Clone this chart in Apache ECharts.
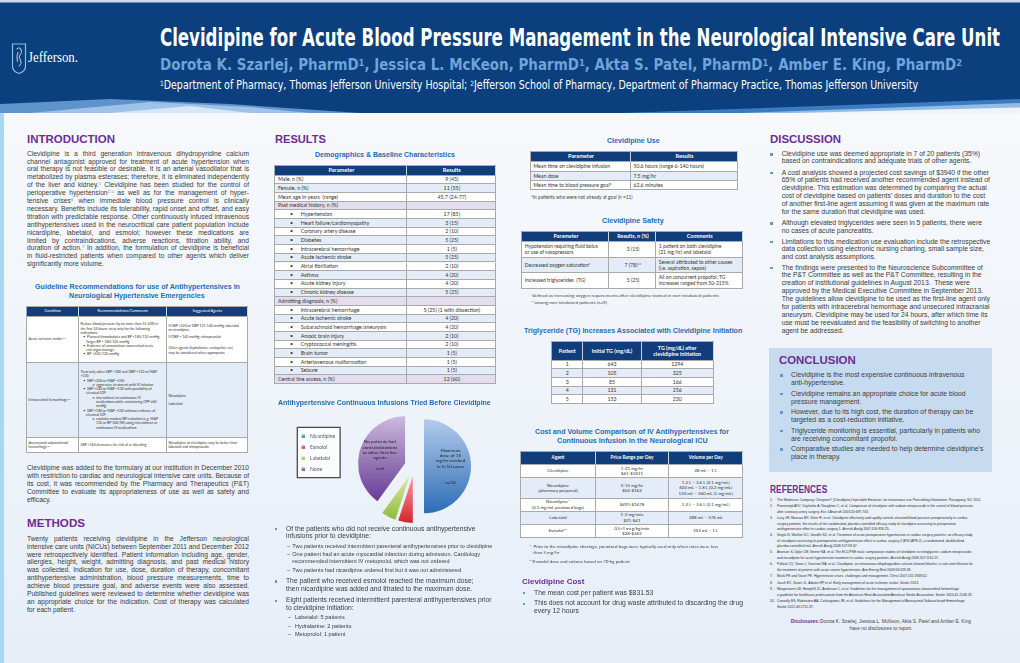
<!DOCTYPE html>
<html><head><meta charset="utf-8">
<script src="https://cdn.jsdelivr.net/npm/echarts@6.0.0/dist/echarts.min.js"></script>
<style>
html,body{margin:0;padding:0}
body{width:1020px;height:663px;position:relative;overflow:hidden;font-family:"Liberation Sans",Arial,Helvetica,sans-serif;color:#3c3c3c;background:linear-gradient(180deg,#f9fbfd 0px,#f4f7fb 220px,#e7eef8 663px)}
.t{position:absolute;white-space:nowrap;line-height:1;transform-origin:0 50%}
.t sup{font-size:0.62em;vertical-align:0.45em;line-height:0;color:#3f8fd8}
.hd sup{color:inherit}
.tb{position:absolute;box-sizing:content-box;border-left:1px solid #a9a9a9;border-top:1px solid #a9a9a9}
.cell{position:absolute;box-sizing:border-box;border-right:1px solid #a9a9a9;border-bottom:1px solid #a9a9a9;display:flex;flex-direction:column;justify-content:center;overflow:hidden;line-height:1.22;font-family:Lato,"Liberation Sans",sans-serif;color:#333;white-space:nowrap}
.cell sup{font-size:0.65em;vertical-align:0.4em;line-height:0}
.bul{position:absolute;width:2.2px;height:2.2px;background:#5b9bd5}
#pie{position:absolute;left:270px;top:395px;width:235px;height:135px}
</style></head><body>
<svg width="1020" height="113" style="position:absolute;left:0;top:0">
  <rect x="0" y="0" width="1020" height="113" fill="#0b3f7d"/>
  <rect x="0" y="0" width="1020" height="2.5" fill="#c9d8ea"/>
  <polygon points="0,113 0,104 110,99 230,104 360,113" fill="#5f93cc"/>
  <polygon points="30,113 150,102 250,107 310,113" fill="#9fc3e8"/>
  <polygon points="110,113 190,106 250,113" fill="#d8e7f5"/>
  <polygon points="620,113 1020,99 1020,113" fill="#3b7bc0"/>
  <polygon points="740,113 1020,103 1020,113" fill="#92bce6"/>
  <polygon points="795,113 1020,107.5 1020,113" fill="#eef4fa"/>
  <path d="M12.5,44 L25.5,44 L25.5,66 Q25.5,71.5 19,73.5 Q12.5,71.5 12.5,66 Z" fill="none" stroke="#8cbbe8" stroke-width="1.2"/>
  <path d="M16.5,49 Q19,46.5 21,49 Q22.5,53 20,55 Q18,57.5 20.5,60 Q22.5,63 19,66.5 M18,52 Q16,56 17.5,62" fill="none" stroke="#c9def3" stroke-width="0.9"/>
</svg>
<div id="pie"></div>
<script>
// ---------------- DATA ----------------
const pieTitle = 'Antihypertensive Continuous Infusions Tried Before Clevidipine';
const pieCategories = ['Nicardipine', 'Esmolol', 'Labetalol', 'None'];
const pieValues = [10, 1, 1, 8];
const pieNotes = ['Maximum\ndose of 15\nmg/hr reached\nin 5/10 cases\n\n\nn=10', 'n=1', 'n=1', 'No patients had\ncontraindications\nto other first-line\nagents\n\nn=8'];

const demoHeader = ['Parameter', 'Results'];
const demoParams = ['Male, n (%)', 'Female, n (%)', 'Mean age in years&nbsp; (range)', 'Past medical history, n (%)', 'Hypertension', 'Heart failure/cardiomyopathy', 'Coronary artery disease', 'Diabetes', 'Intracerebral hemorrhage', 'Acute ischemic stroke', 'Atrial fibrillation', 'Asthma', 'Acute kidney injury', 'Chronic kidney disease', 'Admitting diagnosis, n (%)', 'Intracerebral hemorrhage', 'Acute ischemic stroke', 'Subarachnoid hemorrhage/aneurysm', 'Anoxic brain injury', 'Cryptococcal meningitis', 'Brain tumor', 'Arteriovenous malformation', 'Seizure', 'Central line access, n (%)'];
const demoResults = ['9 (45)', '11 (55)', '45.7 (24-77)', '', '17 (85)', '3 (15)', '2 (10)', '5 (25)', '1 (5)', '5 (25)', '2 (10)', '4 (20)', '4 (20)', '5 (25)', '', '5 (25) (1 with dissection)', '4 (20)', '4 (20)', '2 (10)', '2 (10)', '1 (5)', '1 (5)', '1 (5)', '12 (60)'];
const demoKinds = [0, 0, 0, 1, 2, 2, 2, 2, 2, 2, 2, 2, 2, 2, 1, 2, 2, 2, 2, 2, 2, 2, 2, 1];

const useHeader = ['Parameter', 'Results'];
const useParams = ['Mean time on clevidipine infusion', 'Mean dose', 'Mean time to blood pressure goal*'];
const useResults = ['50.6 hours (range 6-140 hours)', '7.5 mg/hr', '62.6 minutes'];

const safetyHeader = ['Parameter', 'Results, n (%)', 'Comments'];
const safetyParams = ['Hypotension requiring fluid bolus<br>or use of vasopressors', 'Decreased oxygen saturation*', 'Increased triglycerides&nbsp; (TG)'];
const safetyResults = ['3 (15)', '7 (78)**', '5 (25)'];
const safetyComments = ['1 patient on both clevidipine<br>(21 mg/hr) and labetalol', 'Several attributed to other causes<br>(i.e. aspiration, sepsis)', 'All on concurrent propofol; TG<br>increases ranged from 50-215%'];

const tgHeader = ['Patient', 'Initial TG (mg/dL)', 'TG (mg/dL) after<br>clevidipine initiation'];
const tgPatients = ['1', '2', '3', '4', '5'];
const tgInitial = ['643', '105', '85', '131', '153'];
const tgAfter = ['1294', '325', '166', '256', '230'];

const costHeader = ['Agent', 'Price Range per Day', 'Volume per Day'];
const costAgents = ['Clevidipine', 'Nicardipine<br>(pharmacy prepared)', 'Nicardipine*<br>(0.1 mg/mL premixed bags)', 'Labetalol', 'Esmolol**'];
const costPrices = ['1-21 mg/hr<br>$61-$1811', '5-15 mg/hr<br>$54-$162', '$493-$1478', '1-2 mg/min<br>$21-$41', '0.5-3 mcg/kg/min<br>$28-$265'];
const costVolumes = ['48 mL &ndash; 1 L', '1.2 L &ndash; 3.6 L (0.1 mg/mL)<br>600 mL &ndash; 1.8 L (0.2 mg/mL)<br>120 mL &ndash; 360 mL (1 mg/mL)', '1.2 L &ndash; 3.6 L (0.1 mg/mL)', '288 mL &ndash; 576 mL', '252 mL &ndash; 1 L'];

// ---------------- HELPERS ----------------
function T(x, y, html, o = {}) {
  const fs = o.fs || 6.8;
  const d = document.createElement('div');
  d.className = 't' + (o.cls ? ' ' + o.cls : '');
  d.innerHTML = html;
  const f = o.cap ? 0.49 : (o.ff && o.ff.indexOf('Lato') >= 0 ? 0.6 : 0.55);
  let st = `font-size:${fs}px;top:${(y - fs * f).toFixed(2)}px;`;
  if (o.c) st += `color:${o.c};`;
  if (o.b) st += 'font-weight:bold;';
  if (o.ff) st += `font-family:${o.ff};`;
  d.style.cssText = st;
  document.body.appendChild(d);
  let w = d.getBoundingClientRect().width;
  if (o.j) {
    const n = (d.textContent.match(/ /g) || []).length;
    if (w < o.j && n) { d.style.wordSpacing = ((o.j - w) / n) + 'px'; w = o.j; }
    else if (w > o.j) { d.style.transform = `scaleX(${o.j / w})`; w = o.j; }
  }
  if (o.w) { d.style.transform = `scaleX(${o.w / w})`; w = o.w; }
  let left = x;
  if (o.cx != null) left = o.cx - w / 2;
  d.style.left = left + 'px';
  return d;
}
function P(x, y0, lh, width, lines, o = {}) {
  lines.forEach((s, i) => T(x, y0 + i * lh, s, Object.assign({}, o, { j: i < lines.length - 1 ? width : null })));
}
function Bul(x, y) {
  const d = document.createElement('div'); d.className = 'bul';
  d.style.left = (x - 0.3) + 'px'; d.style.top = (y - 1.3) + 'px';
  document.body.appendChild(d);
}
function Lines(x, ys, lines, o = {}) { lines.forEach((s, i) => T(x, ys[i], s, o)); }
function G(x, y, widths, rows, o = {}) {
  const wrap = document.createElement('div'); wrap.className = 'tb';
  const W = widths.reduce((a, b) => a + b, 0), H = rows.reduce((a, r) => a + r.h, 0);
  wrap.style.cssText = `left:${x - 1}px;top:${y - 1}px;width:${W}px;height:${H}px;`;
  let yy = 0;
  rows.forEach(r => {
    let xx = 0;
    r.c.forEach((txt, i) => {
      const d = document.createElement('div'); d.className = 'cell';
      const al = (r.al || o.al || [])[i] || 'l';
      d.style.cssText = `left:${xx}px;top:${yy}px;width:${widths[i]}px;height:${r.h}px;background:${r.bg || '#fff'};font-size:${r.fs || o.fs}px;align-items:${al === 'c' ? 'center' : 'flex-start'};text-align:${al === 'c' ? 'center' : 'left'};padding-left:${o.pad != null ? o.pad : 2}px;padding-right:1px;${r.st || ''}`;
      d.innerHTML = '<div>' + txt + '</div>';
      wrap.appendChild(d);
      xx += widths[i];
    });
    yy += r.h;
  });
  document.body.appendChild(wrap);
}
const HB = '#113e7a', LB = '#e3ecf7', LV = '#e4ddee';
const PURPLE = '#6b2e92', BLUE = '#1f6cb6';
const HEADST = 'color:#fff;font-weight:bold;border-right-color:#c8d3e3;';
const COND = '"DejaVu Sans Condensed","Liberation Sans Narrow","Liberation Sans",sans-serif';

// ---------------- HEADER ----------------
T(28, 58.5, 'Jefferson.', { fs: 15, c: '#fff', ff: '"Liberation Serif","Times New Roman",serif', w: 50 });
T(160, 37, 'Clevidipine for Acute Blood Pressure Management in the Neurological Intensive Care Unit', { fs: 25, b: 1, c: '#fff', ff: COND, w: 840, cap: 1 });
T(160, 66, 'Dorota K. Szarlej, PharmD<sup>1</sup>, Jessica L. McKeon, PharmD<sup>1</sup>, Akta S. Patel, PharmD<sup>1</sup>, Amber E. King, PharmD<sup>2</sup>', { fs: 15, b: 1, c: '#6ea4d8', cls: 'hd', ff: COND, w: 802 });
T(160, 86.5, '<sup>1</sup>Department of Pharmacy, Thomas Jefferson University Hospital; <sup>2</sup>Jefferson School of Pharmacy, Department of Pharmacy Practice, Thomas Jefferson University', { fs: 11.5, c: '#fff', cls: 'hd', ff: COND, w: 758 });

// left strip
(function () { const d = document.createElement('div'); d.style.cssText = 'position:absolute;left:0;top:113px;width:4px;height:550px;background:#aad6f2'; document.body.appendChild(d); })();

// ---------------- COLUMN 1 ----------------
T(27, 140, 'INTRODUCTION', { fs: 11.5, b: 1, c: PURPLE, w: 88, cap: 1 });
P(27, 154.3, 7.9, 222, [
  'Clevidipine is a third generation intravenous dihydropyridine calcium',
  'channel antagonist approved for treatment of acute hypertension when',
  'oral therapy is not feasible or desirable. It is an arterial vasodilator that is',
  'metabolized by plasma esterases; therefore, it is eliminated independently',
  'of the liver and kidney.<sup>1</sup> Clevidipine has been studied for the control of',
  'perioperative hypertension<sup>2-5</sup> as well as for the management of hyper-',
  'tensive crises<sup>6</sup> when immediate blood pressure control is clinically',
  'necessary. Benefits include its tolerability, rapid onset and offset, and easy',
  'titration with predictable response. Other continuously infused intravenous',
  'antihypertensives used in the neurocritical care patient population include',
  'nicardipine, labetalol, and esmolol; however these medications are',
  'limited by contraindications, adverse reactions, titration ability, and',
  'duration of action.<sup>7</sup> In addition, the formulation of clevidipine is beneficial',
  'in fluid-restricted patients when compared to other agents which deliver',
  'significantly more volume.'
], { fs: 6.7 });
T(0, 286.7, 'Guideline Recommendations for use of Antihypertensives in', { fs: 7, b: 1, c: BLUE, cx: 137.5, w: 205 });
T(0, 295.7, 'Neurological Hypertensive Emergencies', { fs: 7, b: 1, c: BLUE, cx: 137.2, w: 135.7 });

const li = (s, pl, ti) => `<div style="padding-left:${pl}px;text-indent:${ti}px">${s}</div>`;
G(27, 307, [52, 88, 81], [
  { h: 10, bg: HB, st: HEADST + 'font-weight:normal;', al: ['c', 'c', 'c'], fs: 3.8, c: ['Condition', 'Recommendations/Comments', 'Suggested Agents'] },
  { h: 46, bg: '#fff', c: [
    'Acute ischemic stroke<sup>8,9</sup>',
    li('Reduce blood pressure by no more than 15-20% in<br>the first 24 hours; treat only for the following<br>indications:', 0, 0) +
    li('&bull;&nbsp; Planned thrombolysis and BP &gt;185/110 mmHg.<br>Target BP &lt; 180/105 mmHg', 5.5, -2.8) +
    li('&bull;&nbsp; Evidence of concomitant noncerebral acute<br>end organ damage', 5.5, -2.8) +
    li('&bull;&nbsp; BP &gt;220/120 mmHg', 5.5, -2.8),
    li('If SBP &gt;220 or DBP 121-140 mmHg: labetalol<br>or nicardipine', 0, 0) + '<div style="height:2.5px"></div>' +
    li('If DBP &gt; 140 mmHg: nitroprusside', 0, 0) + '<div style="height:7px"></div>' +
    li('Other agents (hydralazine, enalaprilat, etc)<br>may be considered when appropriate', 0, 0)
  ] },
  { h: 75, bg: LB, c: [
    'Intracerebral hemorrhage<sup>7,9</sup>',
    li('Treat only when SBP &gt;180 and DBP &gt;110 or MAP<br>&gt;130', 0, 0) +
    li('&bull;&nbsp; SBP &gt;200 or MAP &gt;150:', 5.5, -2.8) +
    li('o&nbsp; aggressive treatment with IV infusion', 15.5, -3.5) +
    li('&bull;&nbsp; SBP &gt;180 or MAP &gt;130 with possibility of<br>elevated ICP:', 5.5, -2.8) +
    li('o&nbsp; intermittent or continuous IV<br>medications while maintaining CPP &ge;60<br>mmHg', 15.5, -3.5) +
    li('&bull;&nbsp; SBP &gt;180 or MAP &gt;130 without evidence of<br>elevated ICP:', 5.5, -2.8) +
    li('o&nbsp; consider modest BP reduction (e.g. MAP<br>110 or BP 160/90) using intermittent or<br>continuous IV medications', 15.5, -3.5),
    'Nicardipine<div style="height:4px"></div>Labetalol'
  ] },
  { h: 15, bg: '#fff', c: ['Aneurysmal subarachnoid<br>hemorrhage<sup>10</sup>', 'SBP &lt;160 decreases the risk of re-bleeding', 'Nicardipine or clevidipine may be better than<br>labetalol and nitroprusside'] }
], { fs: 3.5, pad: 1.5 });

P(27, 468.3, 8, 222, [
  'Clevidipine was added to the formulary at our institution in December 2010',
  'with restriction to cardiac and neurological intensive care units. Because of',
  'its cost, it was recommended by the Pharmacy and Therapeutics (P&amp;T)',
  'Committee to evaluate its appropriateness of use as well as safety and',
  'efficacy.'
], { fs: 6.7 });

T(27, 524, 'METHODS', { fs: 11.5, b: 1, c: PURPLE, w: 58, cap: 1 });
P(27, 539.5, 7.88, 222, [
  'Twenty patients receiving clevidipine in the Jefferson neurological',
  'intensive care units (NICUs) between September 2011 and December 2012',
  'were retrospectively identified. Patient information including age, gender,',
  'allergies, height, weight, admitting diagnosis, and past medical history',
  'was collected. Indication for use, dose, duration of therapy, concomitant',
  'antihypertensive administration, blood pressure measurements, time to',
  'achieve blood pressure goal, and adverse events were also assessed.',
  'Published guidelines were reviewed to determine whether clevidipine was',
  'an appropriate choice for the indication. Cost of therapy was calculated',
  'for each patient.'
], { fs: 6.7 });

// ---------------- COLUMN 2 ----------------
T(275, 140, 'RESULTS', { fs: 11.5, b: 1, c: PURPLE, w: 51, cap: 1 });
T(0, 155, 'Demographics &amp; Baseline Characteristics', { fs: 7, b: 1, c: BLUE, cx: 385, w: 140 });
(function () {
  const rows = [{ h: 9.7, bg: HB, st: HEADST, al: ['c', 'c'], c: demoHeader, fs: 5.6 }];
  let k = 0;
  demoParams.forEach((p, i) => {
    const kind = demoKinds[i];
    let bg;
    if (kind === 1) { bg = LV; k = 0; } else { bg = (k % 2) ? LB : '#fff'; k++; }
    const label = kind === 2 ? `<span style="display:inline-block;width:10.7px;margin-left:12px">&bull;</span>${p}` : p;
    rows.push({ h: 8.68, bg, c: [label, demoResults[i]], al: ['l', 'c'] });
  });
  G(274.7, 166, [132, 89], rows, { fs: 5.3, pad: 3.3 });
})();

const chart = echarts.init(document.getElementById('pie'));
const pieColors = [['#b3cbea', '#2c6db6'], ['#f5a3a3', '#d3262b'], ['#dfe9a8', '#8dbd3b'], ['#cbb9dc', '#683b96']];
function grad(c) { return { type: 'linear', x: 0, y: 0, x2: 0, y2: 1, colorStops: [{ offset: 0, color: c[0] }, { offset: 1, color: c[1] }] }; }
const mainShow = [true, false, false, true];
chart.setOption({
  animation: false,
  title: { text: pieTitle, left: 8, top: 4.6, padding: 0, textStyle: { fontSize: 7, fontWeight: 'bold', color: BLUE, fontFamily: '"Liberation Sans", Arial, sans-serif' } },
  legend: {
    orient: 'vertical', left: 27.3, top: 32.3, data: pieCategories, icon: 'rect', itemWidth: 3.5, itemHeight: 3.5, itemGap: 6,
    padding: [6.2, 5, 6.2, 4.3], borderColor: '#4a4a4a', borderWidth: 1.3, backgroundColor: '#fbfcfe', selectedMode: false,
    textStyle: { fontSize: 5, color: '#595959', fontFamily: 'Lato, "Liberation Sans", sans-serif', lineHeight: 5 }
  },
  series: [
    {
      type: 'pie', center: [144.3, 71.3], radius: [0, 47], startAngle: 90, clockwise: true,
      selectedMode: 'multiple', selectedOffset: 9.7, emphasis: { scale: false }, labelLine: { show: false },
      label: { position: 'inside', fontSize: 4.6, lineHeight: 5.35, color: '#1e1e1e', fontFamily: 'Lato, "Liberation Sans", sans-serif' },
      data: pieCategories.map((n, i) => ({ name: n, value: pieValues[i], selected: true, itemStyle: { color: grad(pieColors[i]) }, label: { show: mainShow[i], formatter: pieNotes[i] } }))
    },
    {
      type: 'pie', silent: true, center: [144.3, 71.3], radius: [0, 64], startAngle: 90, clockwise: true,
      selectedMode: 'multiple', selectedOffset: 9.7, emphasis: { disabled: true }, labelLine: { show: false },
      itemStyle: { color: 'rgba(0,0,0,0)' },
      label: { position: 'inside', fontSize: 4.4, color: '#1e1e1e', fontFamily: 'Lato, "Liberation Sans", sans-serif' },
      data: pieCategories.map((n, i) => ({ name: n, value: pieValues[i], selected: true, label: { show: !mainShow[i], formatter: pieNotes[i] } }))
    }
  ]
});

Bul(275, 529.3);
Lines(286, [529.3, 537], ['Of the patients who did not receive continuous antihypertensive', 'infusions prior to clevidipine:'], { fs: 6.75 });
Lines(287, [546.7, 555, 570.7], ['&ndash;', '&ndash;', '&ndash;'], { fs: 5.5 });
Lines(292.3, [546.7, 555, 561.7, 570.7], ['Two patients received intermittent parenteral antihypertensives prior to clevidipine', 'One patient had an acute myocardial infarction during admission. Cardiology', 'recommended intermittent IV metoprolol, which was not ordered', 'Two patients had nicardipine ordered first but it was not administered'], { fs: 5.55 });
Bul(275, 581.7);
Lines(286, [581.7, 590], ['The patient who received esmolol reached the maximum dose;', 'then nicardipine was added and titrated to the maximum dose.'], { fs: 6.75 });
Bul(275, 601);
Lines(286, [601, 608.3], ['Eight patients received intermittent parenteral antihypertensives prior', 'to clevidipine initiation:'], { fs: 6.75 });
Lines(288, [618.3, 626.7, 635.3], ['&ndash;', '&ndash;', '&ndash;'], { fs: 5.5 });
Lines(295, [618.3, 626.7, 635.3], ['Labetalol: 5 patients', 'Hydralazine: 2 patients', 'Metoprolol: 1 patient'], { fs: 5.55 });

// ---------------- COLUMN 3 ----------------
T(0, 140.7, 'Clevidipine Use', { fs: 7, b: 1, c: BLUE, cx: 633, w: 52.6 });
G(530.7, 152.3, [100, 107], [
  { h: 10, bg: HB, st: HEADST, al: ['c', 'c'], c: useHeader, fs: 5.6 }
].concat(useParams.map((p, i) => ({ h: 9.33, bg: i % 2 ? LB : '#fff', c: [p, useResults[i]] }))), { fs: 5.2, pad: 2.7 });
T(530.7, 197.7, '*In patients who were not already at goal (n =11)', { fs: 4.8, ff: 'Lato,"Liberation Sans",sans-serif', c: '#444' });

T(0, 221.3, 'Clevidipine Safety', { fs: 7, b: 1, c: BLUE, cx: 633.2, w: 61.7 });
G(522.3, 232.3, [87, 47, 86.4], [
  { h: 9.4, bg: HB, st: HEADST, al: ['c', 'c', 'c'], c: safetyHeader, fs: 5.4 }
].concat(safetyParams.map((p, i) => ({ h: [16, 15.6, 15.4][i], bg: i % 2 ? LB : '#fff', al: ['l', 'c', 'l'], c: [p, safetyResults[i], safetyComments[i]] }))), { fs: 5.0, pad: 2.5 });
T(530.7, 296, '*defined as increasing oxygen requirements after clevidipine started in non-intubated patients', { fs: 4.6, ff: 'Lato,"Liberation Sans",sans-serif', c: '#444' });
T(530.7, 302.7, '**among non-intubated patients (n=9)', { fs: 4.6, ff: 'Lato,"Liberation Sans",sans-serif', c: '#444' });

T(524, 330.7, 'Triglyceride (TG) Increases Associated with Clevidipine Initiation', { fs: 7, b: 1, c: BLUE, w: 218.3 });
G(552.3, 342.3, [31, 58.4, 72], [
  { h: 18.4, bg: HB, st: HEADST, al: ['c', 'c', 'c'], c: tgHeader, fs: 5.3 }
].concat(tgPatients.map((p, i) => ({ h: 8.66, bg: i % 2 ? LB : '#fff', al: ['c', 'c', 'c'], c: [p, tgInitial[i], tgAfter[i]] }))), { fs: 5.2, pad: 1 });

T(0, 432.3, 'Cost and Volume Comparison of IV Antihypertensives for', { fs: 7.6, b: 1, c: BLUE, cx: 632, w: 194 });
T(0, 441.3, 'Continuous Infusion in the Neurological ICU', { fs: 7.6, b: 1, c: BLUE, cx: 632, w: 150.6 });
G(521.3, 452.3, [74.4, 73.6, 74], [
  { h: 12.4, bg: HB, st: HEADST, al: ['c', 'c', 'c'], c: costHeader, fs: 4.8 }
].concat(costAgents.map((a, i) => ({ h: [13.6, 20.4, 13, 13, 13.6][i], bg: i % 2 ? LB : '#fff', al: ['c', 'c', 'c'], c: [a, costPrices[i], costVolumes[i]] }))), { fs: 4.4, pad: 1 });
T(529.3, 547.3, '*&nbsp; Prior to the nicardipine shortage, premixed bags were typically used only when rates were less', { fs: 4.5, ff: 'Lato,"Liberation Sans",sans-serif', c: '#444' });
T(533.3, 553.7, 'than 5 mg/hr', { fs: 4.5, ff: 'Lato,"Liberation Sans",sans-serif', c: '#444' });
T(529.3, 562.7, '**Esmolol dose and volume based on 70-kg patient', { fs: 4.5, ff: 'Lato,"Liberation Sans",sans-serif', c: '#444' });

T(522.3, 582.3, 'Clevidipine Cost', { fs: 8, b: 1, c: PURPLE, w: 62.4 });
Bul(523.3, 593.3);
T(534, 593.3, 'The mean cost per patient was $831.53', { fs: 6.8 });
Bul(523.3, 604);
Lines(534, [604, 612], ['This does not account for drug waste attributed to discarding the drug', 'every 12 hours'], { fs: 6.8 });

// ---------------- COLUMN 4 ----------------
T(770, 140, 'DISCUSSION', { fs: 11.5, b: 1, c: PURPLE, w: 71, cap: 1 });
const disc = [
  [[154.7, 162], ['Clevidipine use was deemed appropriate in 7 of 20 patients (35%)', 'based on contraindications and adequate trials of other agents.']],
  [[173.3, 181, 188.7, 196.3, 204.3, 212.3], ['A cost analysis showed a projected cost savings of $3940 if the other', '65% of patients had received another recommended agent instead of', 'clevidipine. This estimation was determined by comparing the actual', 'cost of clevidipine based on patients&#8217; doses and duration to the cost', 'of another first-line agent assuming it was given at the maximum rate', 'for the same duration that clevidipine was used.']],
  [[223.7, 231.7], ['Although elevated triglycerides were seen in 5 patients, there were', 'no cases of acute pancreatitis.']],
  [[242.3, 250, 257.7], ['Limitations to this medication use evaluation include the retrospective', 'data collection using electronic nursing charting, small sample size,', 'and cost analysis assumptions.']],
  [[268.3, 276, 284, 291.7, 299.7, 307.7, 315.7, 323.7, 331.3], ['The findings were presented to the Neuroscience Subcommittee of', 'the P&amp;T Committee as well as the P&amp;T Committee, resulting in the', 'creation of institutional guidelines in August 2013.&nbsp; These were', 'approved by the Medical Executive Committee in September 2013.', 'The guidelines allow clevidipine to be used as the first-line agent only', 'for patients with intracerebral hemorrhage and unsecured intracranial', 'aneurysm. Clevidipine may be used for 24 hours, after which time its', 'use must be reevaluated and the feasibility of switching to another', 'agent be addressed.']]
];
disc.forEach(([ys, ls]) => { Bul(770.7, ys[0]); Lines(781.7, ys, ls, { fs: 6.8 }); });

(function () { const d = document.createElement('div'); d.style.cssText = 'position:absolute;left:769.3px;top:347.7px;width:222.4px;height:124px;background:#c6dbf0'; document.body.appendChild(d); })();
T(779.3, 361, 'CONCLUSION', { fs: 11.5, b: 1, c: PURPLE, w: 76.7, cap: 1 });
const concl = [
  [[375.7, 383.7], ['Clevidipine is the most expensive continuous intravenous', 'anti-hypertensive.']],
  [[394.3, 402.3], ['Clevidipine remains an appropriate choice for acute blood', 'pressure management.']],
  [[412.7, 420.7], ['However, due to its high cost, the duration of therapy can be', 'targeted as a cost-reduction initiative.']],
  [[431.3, 439.3], ['Triglyceride monitoring is essential, particularly in patients who', 'are receiving concomitant propofol.']],
  [[449.7, 457.7], ['Comparative studies are needed to help determine clevidipine&#8217;s', 'place in therapy.']]
];
concl.forEach(([ys, ls]) => { Bul(780.7, ys[0]); Lines(791, ys, ls, { fs: 6.85 }); });

T(770, 490, 'REFERENCES', { fs: 10, b: 1, c: PURPLE, w: 57.3, cap: 1 });
const refs = [
  [[500.7], ['The Medicines Company. Cleviprex&reg; (Clevidipine) Injectable Emulsion, for intravenous use Prescribing Information. Parsippany, NJ; 2011.']],
  [[507.3, 512.7], ['Powroznyk AVV, Vuylsteke A, Naughton C, et al. Comparison of clevidipine with sodium nitroprusside in the control of blood pressure', 'after coronary artery surgery. <i>Eur J Anaesth</i> 2003;20:697-703.']],
  [[519.3, 524.7, 530], ['Levy JH, Mancao MY, Gitter R, et al. Clevidipine effectively and rapidly controls elevated blood pressure preoperatively in cardiac', 'surgery patients: the results of the randomized, placebo-controlled efficacy study of clevidipine assessing its preoperative', 'antihypertensive effect in cardiac surgery-1. <i>Anesth Analg</i> 2007;105:918-25.']],
  [[536.3, 541.7, 547], ['Singla N, Warltier DC, Gandhi SD, et al. Treatment of acute postoperative hypertension in cardiac surgery patients: an efficacy study', 'of clevidipine assessing its postoperative antihypertensive effect in cardiac surgery-2 (ESCAPE-2), a randomized, double-blind,', 'placebo-controlled trial. <i>Anesth Analg</i> 2008;107:59-67.']],
  [[553.3, 558.7], ['Aronson S, Dyke CM, Stierer KA, et al. The ECLIPSE trials: comparative studies of clevidipine to nitroglycerin, sodium nitroprusside,', 'and nicardipine for acute hypertension treatment in cardiac surgery patients. <i>Anesth Analg</i> 2008;107:1110-21.']],
  [[565.3, 570.7], ['Pollack CV, Varon J, Garrison NA, et al. Clevidipine, an intravenous dihydropyridine calcium channel blocker, is safe and effective for', 'the treatment of patients with acute severe hypertension. <i>Ann Emerg Med</i> 2009;53:329-38.']],
  [[577], ['Marik PE and Varon PE. Hypertensive crises: challenges and management. <i>Chest</i> 2007;131:1949-62.']],
  [[583.7], ['Jauch EC, Saver JL, Adams HP et al. Early management of acute ischemic stroke. <i>Stroke</i> 2013.']],
  [[590.3, 596], ['Morgenstern LB, Hemphill JC, Anderson C, et al. Guidelines for the management of spontaneous intracerebral hemorrhage', 'a guideline for healthcare professionals from the American Heart Association/American Stroke Association. <i>Stroke</i> 2010;41:2108-29.']],
  [[602.3, 607.7], ['Connolly ES, Rabinstein AA, Carhuapoma JR, et al. Guidelines for the Management of Aneurysmal Subarachnoid Hemorrhage.', '<i>Stroke</i> 2012;43:1711-37.']]
];
refs.forEach(([ys, ls], i) => { T(770, ys[0], (i + 1) + '.', { fs: 3.35, c: '#2b2b2b' }); Lines(777, ys, ls, { fs: 3.35, c: '#2b2b2b' }); });

T(790.7, 622.7, 'Disclosures:', { fs: 4.8, b: 1, c: PURPLE });
T(820, 622.7, 'Dorota K. Szarlej, Jessica L. McKeon, Akta S. Patel and Amber E. King', { fs: 4.8, c: '#444', w: 151 });
T(0, 629.7, 'have no disclosures to report.', { fs: 4.8, c: '#444', cx: 881 });
</script>
</body></html>
